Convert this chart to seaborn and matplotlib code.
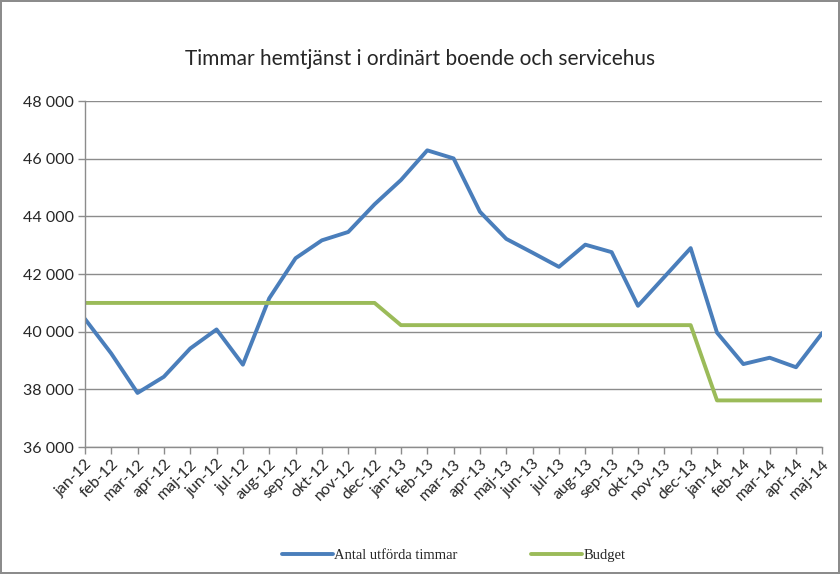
import numpy as np
import pandas as pd
import matplotlib
matplotlib.use("Agg")
import matplotlib.pyplot as plt
import seaborn as sns

# Data
months = ["jan-12", "feb-12", "mar-12", "apr-12", "maj-12", "jun-12", "jul-12", "aug-12",
          "sep-12", "okt-12", "nov-12", "dec-12", "jan-13", "feb-13", "mar-13", "apr-13",
          "maj-13", "jun-13", "jul-13", "aug-13", "sep-13", "okt-13", "nov-13", "dec-13",
          "jan-14", "feb-14", "mar-14", "apr-14", "maj-14"]
utforda = [40450, 39250, 37880, 38440, 39420, 40080, 38860, 41160,
           42550, 43170, 43460, 44420, 45260, 46290, 46010, 44160,
           43220, 42740, 42250, 43020, 42760, 40900, 41900, 42900,
           39970, 38880, 39100, 38770, 39960]
budget = [41000] * 12 + [40230] * 12 + [37620] * 5
series_names = ["Antal utförda timmar", "Budget"]
yticks = [36000, 38000, 40000, 42000, 44000, 46000, 48000]

df = pd.DataFrame({
    "month": months * 2,
    "value": utforda + budget,
    "serie": [series_names[0]] * len(months) + [series_names[1]] * len(months),
})

sns.set_style("white")
plt.rcParams["font.family"] = ["Lato", "DejaVu Sans"]

fig = plt.figure(figsize=(8.4, 5.74), dpi=100)
fig.patch.set_edgecolor("#8c8c8c")
fig.patch.set_linewidth(1.5)
ax = fig.add_axes([0.101, 0.221, 0.878, 0.603])

sns.lineplot(data=df, x="month", y="value", hue="serie", sort=False,
             palette=["#4a7ebb", "#9bbb59"], linewidth=2.8, ax=ax, legend=True)

ax.set_xlim(0, len(months) - 1)
ax.set_ylim(36000, 48000)
ax.set_yticks(yticks)
ax.set_yticklabels([f"{v:,}".replace(",", " ") for v in yticks], fontsize=11.5)
ax.set_xticks(range(len(months)))
ax.set_xticklabels(months, rotation=45, ha="right", rotation_mode="anchor", fontsize=11.5)
ax.set_xlabel("")
ax.set_ylabel("")
ax.yaxis.grid(True, color="#8c8c8c", linewidth=1)
ax.set_axisbelow(True)
for s in ["top", "right"]:
    ax.spines[s].set_visible(False)
for s in ["left", "bottom"]:
    ax.spines[s].set_color("#8c8c8c")
    ax.spines[s].set_linewidth(1)
ax.tick_params(axis="both", which="major", length=5, color="#8c8c8c", width=1,
               left=True, bottom=True, pad=3)
ax.tick_params(axis="x", pad=2)

fig.suptitle("Timmar hemtjänst i ordinärt boende och servicehus", y=0.915, fontsize=15)

leg = ax.legend(loc="upper center", bbox_to_anchor=(0.5, -0.255), ncol=2, frameon=False,
                prop={"family": "Liberation Serif", "size": 10.5}, handlelength=3.5,
                columnspacing=5, handletextpad=0.1)

fig.savefig("out.png", dpi=100)
